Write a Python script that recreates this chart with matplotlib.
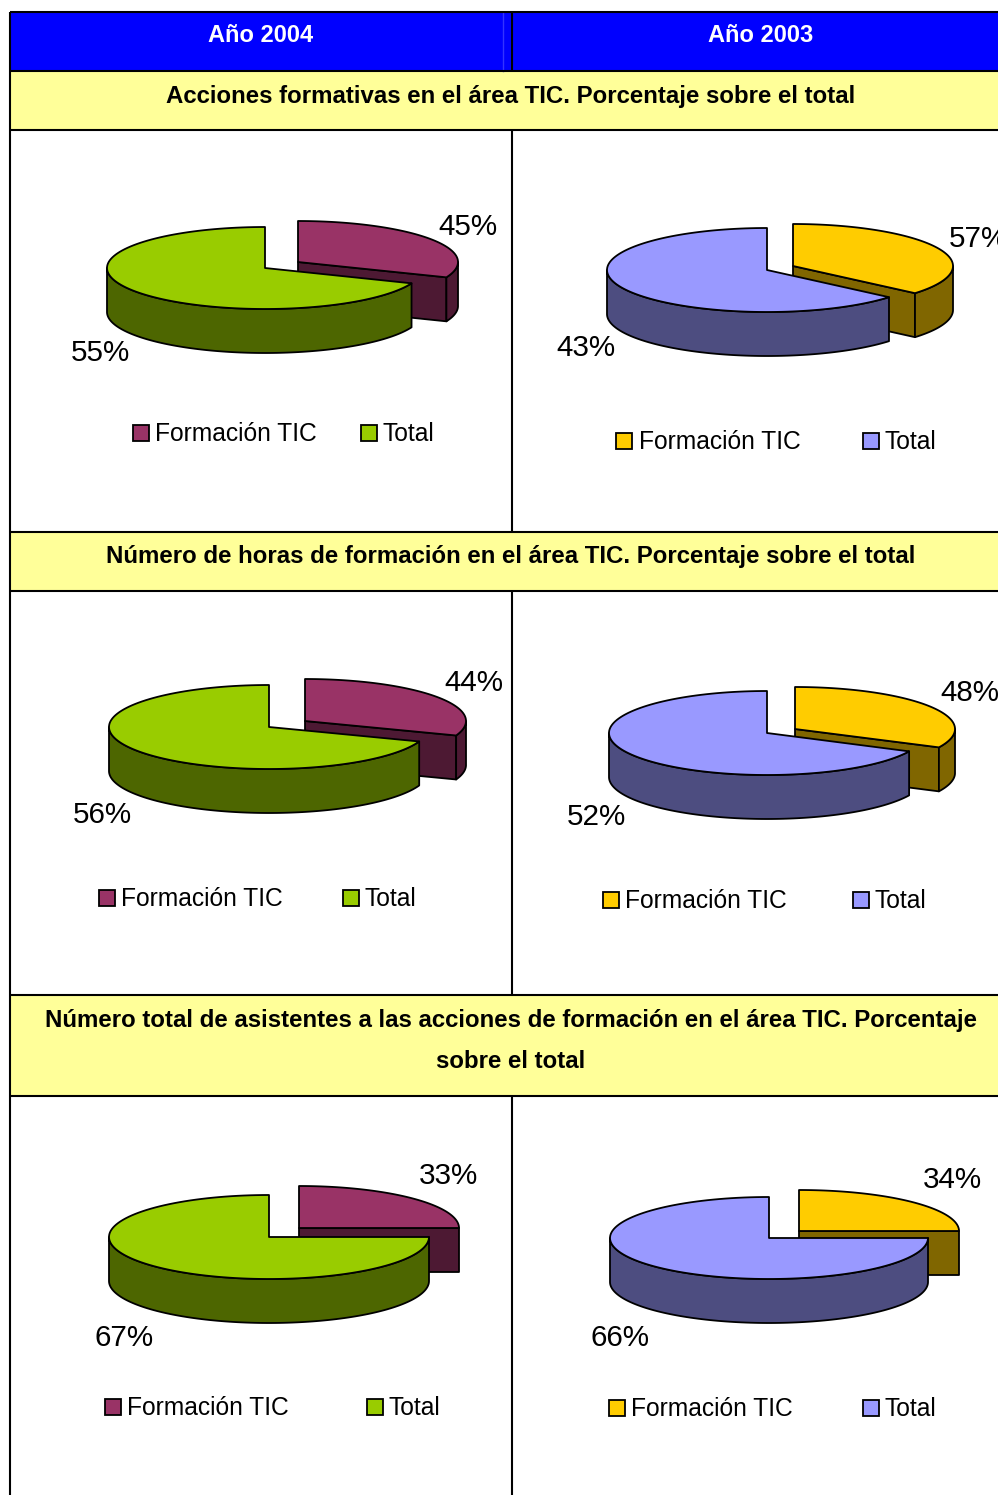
import numpy as np
import matplotlib
matplotlib.use("Agg")
import matplotlib.pyplot as plt
from matplotlib.patches import Rectangle

plt.rcParams['font.family'] = ['Liberation Sans', 'DejaVu Sans']

# ---- data ----
years = ["Año 2004", "Año 2003"]
row_titles = ["Acciones formativas en el área TIC. Porcentaje sobre el total",
              "Número de horas de formación en el área TIC. Porcentaje sobre el total",
              "Número total de asistentes a las acciones de formación en el área TIC. Porcentaje",
              "sobre el total"]
legend_labels = ["Formación TIC", "Total"]
# printed percentages (Formación TIC, Total)
labels_2004 = [(45, 55), (44, 56), (33, 67)]
labels_2003 = [(57, 43), (48, 52), (34, 66)]
# fraction of the ellipse actually occupied by the "Formación TIC" slice
drawn_2004 = [0.311, 0.306, 0.25]
drawn_2003 = [0.362, 0.322, 0.25]

# ---- styling ----
PURPLE, PURPLE_D = "#993366", "#4D1933"
GREEN, GREEN_D = "#99CC00", "#4D6600"
BLUE, BLUE_D = "#9999FF", "#4D4D80"
YELLOW, YELLOW_D = "#FFCC00", "#806600"

fig = plt.figure(figsize=(9.98, 14.95), dpi=100)
ax = fig.add_axes([0, 0, 1, 1])
ax.set_xlim(0, 998)
ax.set_ylim(1495, 0)
ax.axis("off")

# ---- table ----
ax.add_patch(Rectangle((10, 12), 988, 59, fc="#0000FF", ec="none", zorder=1))
for y0, y1 in [(71, 130), (532, 591), (995, 1096)]:
    ax.add_patch(Rectangle((10, y0), 988, y1 - y0, fc="#FFFF99", ec="none", zorder=1))
ax.plot([503, 503], [12, 71], color="#3333FF", lw=1, zorder=2)
for y in [12, 71, 130, 532, 591, 995, 1096]:
    ax.plot([10, 998], [y, y], color="black", lw=1.5, zorder=3, solid_capstyle="butt")
ax.plot([10, 10], [12, 1495], color="black", lw=1.5, zorder=3, solid_capstyle="butt")
for y0, y1 in [(12, 71), (130, 532), (591, 995), (1096, 1495)]:
    ax.plot([512, 512], [y0, y1], color="black", lw=1.5, zorder=3, solid_capstyle="butt")

ax.text(261, 36, years[0], color="white", fontsize=17, fontweight="bold", ha="center", va="center", zorder=4)
ax.text(761, 36, years[1], color="white", fontsize=17, fontweight="bold", ha="center", va="center", zorder=4)
for txt, y in zip(row_titles, [96, 557, 1021, 1062]):
    ax.text(511, y, txt, color="black", fontsize=17.28, fontweight="bold", ha="center", va="center", zorder=4)


def arc(cx, cy, rx, ry, t0, t1, n=120):
    t = np.radians(np.linspace(t0, t1, n))
    return cx + rx * np.sin(t), cy - ry * np.cos(t)


def pie3d(frac, small_apex, big_apex, rx_s, rx_b, ry, depth, c_s, d_s, c_b, d_b):
    end = 360 * frac
    kw = dict(ec="black", lw=1.3, joinstyle="round", zorder=5)
    # small slice: radial wall, outer side, top
    sx, sy = small_apex
    ex, ey = arc(sx, sy, rx_s, ry, end, end, 1)
    ax.fill([sx, ex[0], ex[0], sx], [sy, ey[0], ey[0] + depth, sy + depth], fc=d_s, **kw)
    if end > 90:
        x, y = arc(sx, sy, rx_s, ry, 90, end)
        ax.fill(np.r_[x, x[::-1]], np.r_[y, y[::-1] + depth], fc=d_s, **kw)
    x, y = arc(sx, sy, rx_s, ry, 0, end)
    ax.fill(np.r_[sx, x], np.r_[sy, y], fc=c_s, **kw)
    # big slice: outer side then top
    bx, by = big_apex
    x, y = arc(bx, by, rx_b, ry, end, 270)
    ax.fill(np.r_[x, x[::-1]], np.r_[y, y[::-1] + depth], fc=d_b, **kw)
    x, y = arc(bx, by, rx_b, ry, end, 360)
    ax.fill(np.r_[bx, x], np.r_[by, y], fc=c_b, **kw)


def legend(px1, tx1, px2, tx2, y, c1, c2):
    for px, tx, c, lab in [(px1, tx1, c1, legend_labels[0]), (px2, tx2, c2, legend_labels[1])]:
        ax.add_patch(Rectangle((px, y - 7), 16, 16, fc=c, ec="black", lw=1.3, zorder=5))
        ax.text(tx, y + 2, lab, fontsize=17.7, color="black", ha="left", va="center", zorder=6)


def pct(x, y, v, ha="center"):
    ax.text(x, y + 2, f"{v}%", fontsize=21.3, color="black", ha=ha, va="center", zorder=6)


# ---- left column (2004) ----
left_layout = [
    dict(s=(298, 262), b=(265, 268), rs=160, rb=158, ry=41, d=44,
         lab=[(468, 225), (100, 351)], leg=(133, 155, 361, 383, 432)),
    dict(s=(305, 721), b=(269, 727), rs=161, rb=160, ry=42, d=44,
         lab=[(474, 681), (102, 813)], leg=(99, 121, 343, 365, 897)),
    dict(s=(299, 1228), b=(269, 1237), rs=160, rb=160, ry=42, d=44,
         lab=[(448, 1174), (124, 1336)], leg=(105, 127, 367, 389, 1406)),
]
for f, vals, L in zip(drawn_2004, labels_2004, left_layout):
    pie3d(f, L['s'], L['b'], L['rs'], L['rb'], L['ry'], L['d'], PURPLE, PURPLE_D, GREEN, GREEN_D)
    pct(*L['lab'][0], vals[0])
    pct(*L['lab'][1], vals[1])
    legend(*L['leg'], PURPLE, GREEN)

# ---- right column (2003) ----
right_layout = [
    dict(s=(793, 266), b=(767, 270), rs=160, rb=160, ry=42, d=44,
         lab=[(978, 237), (586, 346)], leg=(616, 639, 863, 885, 440)),
    dict(s=(795, 729), b=(767, 733), rs=160, rb=158, ry=42, d=44,
         lab=[(970, 691), (596, 815)], leg=(603, 625, 853, 875, 899)),
    dict(s=(799, 1231), b=(769, 1238), rs=160, rb=159, ry=41, d=44,
         lab=[(952, 1178), (620, 1336)], leg=(609, 631, 863, 885, 1407)),
]
for f, vals, L in zip(drawn_2003, labels_2003, right_layout):
    pie3d(f, L['s'], L['b'], L['rs'], L['rb'], L['ry'], L['d'], YELLOW, YELLOW_D, BLUE, BLUE_D)
    pct(*L['lab'][0], vals[0])
    pct(*L['lab'][1], vals[1])
    legend(*L['leg'], YELLOW, BLUE)

fig.savefig("out.png", dpi=100, facecolor="white")
